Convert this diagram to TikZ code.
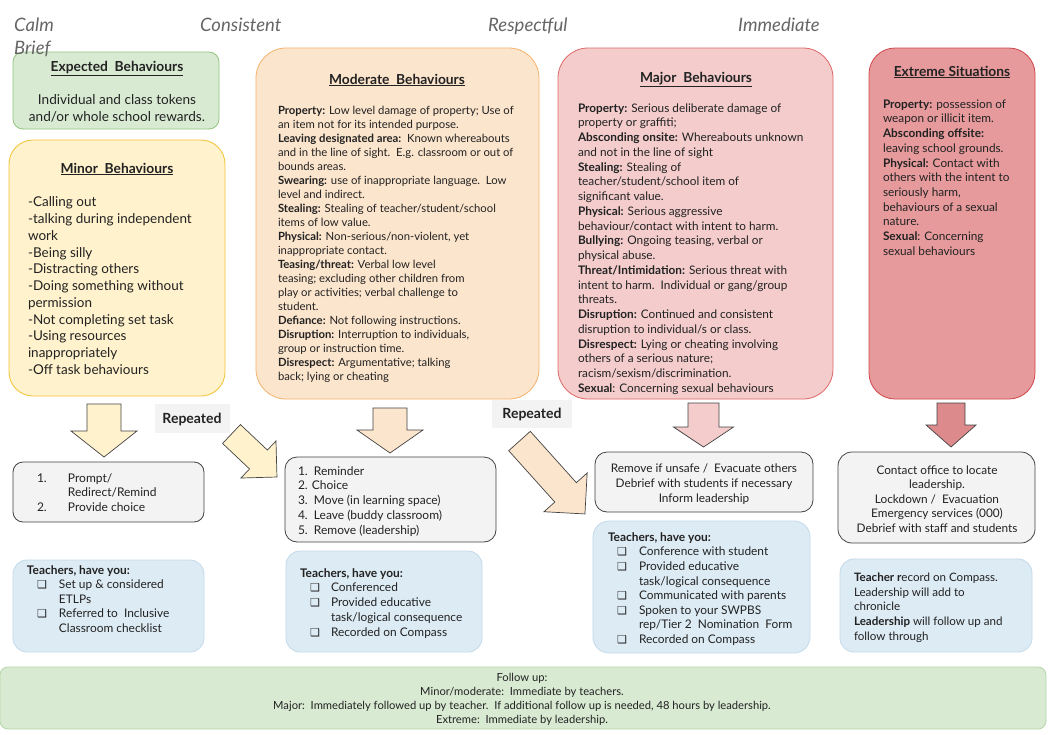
\documentclass[tikz,border=0pt]{standalone}
\usepackage{fontspec}
\setmainfont{Lato}
\newfontfamily\dejavu{DejaVu Sans}
\newcommand\fs[2]{\fontsize{#1}{#2}\selectfont}
\newcommand\ttab[2]{\begin{tabular}[t]{@{}#1@{}}#2\end{tabular}}
\newcommand\cbx{{\dejavu\fontsize{11}{11}\selectfont ❑}}
\newcommand\blockarr[7]{%
  \draw[arr,#1,shift={#2},rotate=#3] (0,#5) -- ({#4-#6},#5) -- ({#4-#6},#7) -- (#4,0)
    -- ({#4-#6},-#7) -- ({#4-#6},-#5) -- (0,-#5) -- cycle;}
\definecolor{expfill}{HTML}{D9EAD3}\definecolor{expdraw}{HTML}{93C47D}
\definecolor{minfill}{HTML}{FFF2CC}\definecolor{mindraw}{HTML}{F1C232}
\definecolor{modfill}{HTML}{FCE5CD}\definecolor{moddraw}{HTML}{F6B26B}
\definecolor{majfill}{HTML}{F4CCCC}\definecolor{majdraw}{HTML}{E06666}
\definecolor{extfill}{HTML}{E69A9C}\definecolor{extdraw}{HTML}{D0454C}
\definecolor{exarrow}{HTML}{DD8A8C}
\definecolor{grayfill}{HTML}{F3F3F3}\definecolor{graydraw}{HTML}{434343}
\definecolor{bluefill}{HTML}{DDEBF4}\definecolor{bluedraw}{HTML}{C2DAEB}
\definecolor{fufill}{HTML}{D9EAD3}\definecolor{fudraw}{HTML}{B6D7A8}
\definecolor{hdr}{HTML}{666666}
\definecolor{txt}{HTML}{222222}
\begin{document}
\begin{tikzpicture}[x=1pt,y=-1pt,
  box/.style={anchor=north west,inner sep=0pt,outer sep=0pt,line width=0.8pt},
  arr/.style={draw=graydraw,line width=0.7pt,line join=miter},
  tx/.style={inner sep=0pt,outer sep=0pt,text=txt},
  ttl/.style={tx,anchor=base,font=\fs{13.8}{16}\bfseries},
  hd/.style={inner sep=0pt,anchor=base west,text=hdr,font=\fs{18.5}{20}\itshape},
  rep/.style={box,fill=grayfill,draw=none}]
\fill[white] (0,0) rectangle (1050,734);
\useasboundingbox (0,0) rectangle (1050,734);
% boxes
\node[box,fill=expfill,draw=expdraw,rounded corners=10pt,minimum width=206pt,minimum height=77pt] (expected) at (13,52) {};
\node[box,fill=minfill,draw=mindraw,rounded corners=24pt,minimum width=216pt,minimum height=256pt] (minor) at (9,140) {};
\node[box,fill=modfill,draw=moddraw,rounded corners=30pt,minimum width=283pt,minimum height=351pt] (moderate) at (256,48) {};
\node[box,fill=majfill,draw=majdraw,rounded corners=30pt,minimum width=275pt,minimum height=351pt] (major) at (558,48) {};
\node[box,fill=extfill,draw=extdraw,rounded corners=26pt,minimum width=166pt,minimum height=351pt] (extreme) at (869,48) {};
\node[box,fill=grayfill,draw=graydraw,rounded corners=10pt,minimum width=191pt,minimum height=60pt] (minact) at (13,462) {};
\node[box,fill=grayfill,draw=graydraw,rounded corners=12pt,minimum width=211pt,minimum height=85pt] (modact) at (285,457) {};
\node[box,fill=grayfill,draw=graydraw,rounded corners=12pt,minimum width=218pt,minimum height=60pt] (majact) at (595,452) {};
\node[box,fill=grayfill,draw=graydraw,rounded corners=14pt,minimum width=197pt,minimum height=91pt] (extact) at (838,452) {};
\node[box,fill=bluefill,draw=bluedraw,rounded corners=14pt,minimum width=191pt,minimum height=92pt] (minteach) at (13,560) {};
\node[box,fill=bluefill,draw=bluedraw,rounded corners=14pt,minimum width=196pt,minimum height=101pt] (modteach) at (286,551) {};
\node[box,fill=bluefill,draw=bluedraw,rounded corners=16pt,minimum width=217pt,minimum height=132pt] (majteach) at (593,521) {};
\node[box,fill=bluefill,draw=bluedraw,rounded corners=14pt,minimum width=192pt,minimum height=93pt] (extteach) at (840,559) {};
\node[box,fill=fufill,draw=fudraw,rounded corners=8pt,minimum width=1046pt,minimum height=62pt] (followup) at (0,667) {};
\node[rep,minimum width=75pt,minimum height=29pt] (rep1) at (155,404) {};
\node[rep,minimum width=80pt,minimum height=28pt] (rep2) at (492,400) {};
% arrows
\blockarr{fill=minfill}{(104,404)}{-90}{53}{17}{26}{33}
\blockarr{fill=modfill}{(390,408)}{-90}{45}{17}{23}{33}
\blockarr{fill=majfill}{(703.5,403)}{-90}{44}{15.5}{20}{30}
\blockarr{fill=exarrow}{(951,403)}{-90}{44}{14}{22}{25}
\blockarr{fill=minfill}{(231.5,434)}{-43.4}{62.6}{13}{25.5}{25.5}
\blockarr{fill=modfill}{(519.5,441)}{-48.1}{98}{14.5}{29}{29}
% labels
\node[tx,anchor=base,font=\fs{14}{16}\bfseries] (rep1t) at (192,423) {Repeated};
\node[tx,anchor=base,font=\fs{14}{16}\bfseries] (rep2t) at (532,418) {Repeated};
% expected
\node[ttl] (expt) at (117,71) {\underline{Expected\ \ Behaviours}};
\node[tx,anchor=base,font=\fs{13.6}{17}] (expb) at (117,104) {\ttab{c}{Individual and class tokens\\and/or whole school rewards.}};
% minor
\node[ttl] (mint) at (117,173) {\underline{Minor\ \ Behaviours}};
\node[tx,anchor=base west,font=\fs{13.5}{16.75}] (minb) at (28,206.8) {\ttab{l}{-Calling out\\-talking during independent\\work\\-Being silly\\-Distracting others\\-Doing something without\\permission\\-Not completing set task\\-Using resources\\inappropriately\\-Off task behaviours}};
% moderate
\node[ttl] (modt) at (397,84) {\underline{Moderate\ \ Behaviours}};
\node[tx,anchor=base west,font=\fs{11.3}{14.05}] (modb) at (278,114) {\ttab{l}{%
\textbf{Property:} Low level damage of property; Use of\\
an item not for its intended purpose.\\
\textbf{Leaving designated area:}\ \ Known whereabouts\\
and in the line of sight.\ \ E.g. classroom or out of\\
bounds areas.\\
\textbf{Swearing:} use of inappropriate language.\ \ Low\\
level and indirect.\\
\textbf{Stealing:} Stealing of teacher/student/school\\
items of low value.\\
\textbf{Physical:} Non-serious/non-violent, yet\\
inappropriate contact.\\
\textbf{Teasing/threat:} Verbal low level\\
teasing; excluding other children from\\
play or activities; verbal challenge to\\
student.\\
\textbf{Defiance:} Not following instructions.\\
\textbf{Disruption:} Interruption to individuals,\\
group or instruction time.\\
\textbf{Disrespect:} Argumentative; talking\\
back; lying or cheating}};
% major
\node[ttl] (majt) at (696,82) {\underline{Major\ \ Behaviours}};
\node[tx,anchor=base west,font=\fs{11.8}{14.74}] (majb) at (578,112.2) {\ttab{l}{%
\textbf{Property:} Serious deliberate damage of\\
property or graffiti;\\
\textbf{Absconding onsite:} Whereabouts unknown\\
and not in the line of sight\\
\textbf{Stealing:} Stealing of\\
teacher/student/school item of\\
significant value.\\
\textbf{Physical:} Serious aggressive\\
behaviour/contact with intent to harm.\\
\textbf{Bullying:} Ongoing teasing, verbal or\\
physical abuse.\\
\textbf{Threat/Intimidation:} Serious threat with\\
intent to harm.\ \ Individual or gang/group\\
threats.\\
\textbf{Disruption:} Continued and consistent\\
disruption to individual/s or class.\\
\textbf{Disrespect:} Lying or cheating involving\\
others of a serious nature;\\
racism/sexism/discrimination.\\
\textbf{Sexual}: Concerning sexual behaviours}};
% extreme
\node[ttl] (extt) at (952,76) {\underline{Extreme Situations}};
\node[tx,anchor=base west,font=\fs{11.8}{14.7}] (extb) at (883,108.2) {\ttab{l}{%
\textbf{Property:} possession of\\
weapon or illicit item.\\
\textbf{Absconding offsite:}\\
leaving school grounds.\\
\textbf{Physical:} Contact with\\
others with the intent to\\
seriously harm,\\
behaviours of a sexual\\
nature.\\
\textbf{Sexual}: Concerning\\
sexual behaviours}};
% actions
\node[tx,anchor=base west,font=\fs{12}{14.5}] (minactt) at (37,482.2) {\ttab{p{31pt}@{}l}{1.&Prompt/\\&Redirect/Remind\\2.&Provide choice}};
\node[tx,anchor=base west,font=\fs{12}{14.7}] (modactt) at (298,475.2) {\ttab{l}{1.\ \ Reminder\\2. Choice\\3.\ \ Move (in learning space)\\4.\ \ Leave (buddy classroom)\\5.\ \ Remove (leadership)}};
\node[tx,anchor=base,font=\fs{11.8}{15}] (majactt) at (704,472.2) {\ttab{c}{Remove if unsafe /\ \ Evacuate others\\Debrief with students if necessary\\Inform leadership}};
\node[tx,anchor=base,font=\fs{11.8}{14.5}] (extactt) at (937,474.2) {\ttab{c}{Contact office to locate\\leadership.\\Lockdown /\ \ Evacuation\\Emergency services (000)\\Debrief with staff and students}};
% teachers
\node[tx,anchor=base west,font=\fs{11.9}{14.5}] (minteacht) at (27,574.2) {\ttab{p{32pt}@{}l}{\multicolumn{2}{@{}l@{}}{\textbf{Teachers, have you:}}\\
\hspace*{10pt}\cbx&Set up \& considered\\&ETLPs\\\hspace*{10pt}\cbx&Referred to\ \ Inclusive\\&Classroom checklist}};
\node[tx,anchor=base west,font=\fs{11.9}{14.7}] (modteacht) at (300,577.2) {\ttab{p{31pt}@{}l}{\multicolumn{2}{@{}l@{}}{\textbf{Teachers, have you:}}\\
\hspace*{10pt}\cbx&Conferenced\\\hspace*{10pt}\cbx&Provided educative\\&task/logical consequence\\\hspace*{10pt}\cbx&Recorded on Compass}};
\node[tx,anchor=base west,font=\fs{11.9}{14.6}] (majteacht) at (608,541.2) {\ttab{p{31pt}@{}l}{\multicolumn{2}{@{}l@{}}{\textbf{Teachers, have you:}}\\
\hspace*{9pt}\cbx&Conference with student\\\hspace*{9pt}\cbx&Provided educative\\&task/logical consequence\\\hspace*{9pt}\cbx&Communicated with parents\\\hspace*{9pt}\cbx&Spoken to your SWPBS\\&rep/Tier 2\ \ Nomination\ \ Form\\\hspace*{9pt}\cbx&Recorded on Compass}};
\node[tx,anchor=base west,font=\fs{11.6}{14.8}] (extteacht) at (854,581.2) {\ttab{l}{\textbf{Teacher r}ecord on Compass.\\Leadership will add to\\chronicle\\\textbf{Leadership} will follow up and\\follow through}};
% follow up
\node[tx,anchor=base,font=\fs{11.2}{14}] (fut) at (522,681) {\ttab{c}{Follow up:\\Minor/moderate:\ \ Immediate by teachers.\\Major:\ \ Immediately followed up by teacher.\ \ If additional follow up is needed, 48 hours by leadership.\\Extreme:\ \ Immediate by leadership.}};
% headers
\node[hd] (calm) at (14,31.5) {Calm};
\node[hd] (brief) at (14,54.5) {Brief};
\node[hd] (consistent) at (200,31.5) {Consistent};
\node[hd] (respectful) at (488,31.5) {Respectful};
\node[hd] (immediate) at (738,31.5) {Immediate};
\end{tikzpicture}
\end{document}
